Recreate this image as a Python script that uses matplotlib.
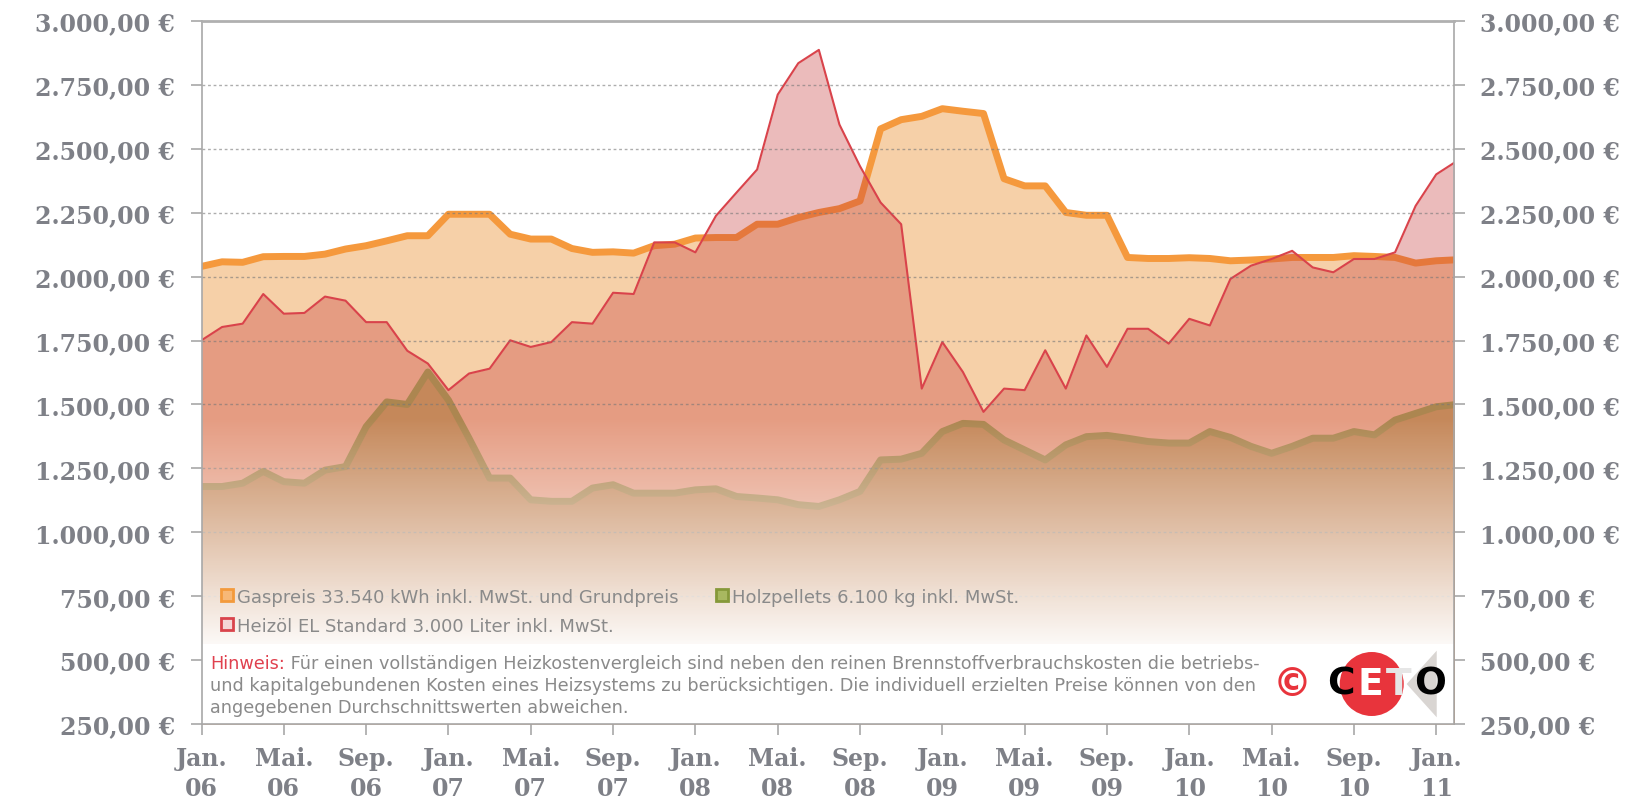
import numpy as np
import matplotlib.pyplot as plt
from matplotlib.lines import Line2D
from matplotlib.patches import Ellipse, Polygon, Rectangle

# monthly values, Jan 06 .. Feb 11 (last point runs past the right edge)
gas = [2040, 2058, 2056, 2078, 2079, 2079, 2088, 2108, 2121, 2140,
       2160, 2160, 2244, 2244, 2244, 2166, 2147, 2147, 2110, 2095,
       2097, 2092, 2121, 2127, 2151, 2153, 2153, 2205, 2205, 2231,
       2251, 2266, 2296, 2578, 2614, 2627, 2657, 2647, 2638, 2383,
       2355, 2355, 2251, 2240, 2240, 2075, 2071, 2071, 2074, 2071,
       2062, 2065, 2069, 2075, 2075, 2075, 2082, 2079, 2075, 2053,
       2062, 2066]
heizoel = [1751, 1803, 1816, 1932, 1855, 1858, 1922, 1906, 1822, 1822,
           1710, 1660, 1556, 1621, 1640, 1751, 1725, 1744, 1822, 1816,
           1937, 1932, 2134, 2134, 2095, 2238, 2329, 2419, 2712, 2835,
           2887, 2595, 2432, 2290, 2205, 1562, 1744, 1627, 1471, 1562,
           1556, 1712, 1562, 1770, 1647, 1796, 1796, 1738, 1835, 1809,
           1991, 2043, 2069, 2101, 2036, 2017, 2069, 2069, 2095, 2277,
           2400, 2452]
pellets = [1179, 1179, 1192, 1238, 1198, 1192, 1243, 1257, 1413, 1510,
           1500, 1627, 1517, 1368, 1212, 1212, 1127, 1121, 1121, 1173,
           1186, 1153, 1153, 1153, 1166, 1170, 1140, 1134, 1127, 1108,
           1101, 1127, 1160, 1283, 1286, 1309, 1394, 1426, 1422, 1361,
           1322, 1283, 1342, 1374, 1379, 1368, 1355, 1349, 1349, 1394,
           1371, 1336, 1309, 1336, 1368, 1368, 1394, 1381, 1439, 1465,
           1491, 1500]

month_labels = ["Jan.\n06", "Mai.\n06", "Sep.\n06", "Jan.\n07", "Mai.\n07", "Sep.\n07",
                "Jan.\n08", "Mai.\n08", "Sep.\n08", "Jan.\n09", "Mai.\n09", "Sep.\n09",
                "Jan.\n10", "Mai.\n10", "Sep.\n10", "Jan.\n11"]
y_ticks = list(range(250, 3001, 250))

legend_labels = ["Gaspreis 33.540 kWh inkl. MwSt. und Grundpreis",
                 "Heizöl EL Standard 3.000 Liter inkl. MwSt.",
                 "Holzpellets 6.100 kg inkl. MwSt."]
note_lines = ["Für einen vollständigen Heizkostenvergleich sind neben den reinen Brennstoffverbrauchskosten die betriebs-",
              "und kapitalgebundenen Kosten eines Heizsystems zu berücksichtigen. Die individuell erzielten Preise können von den",
              "angegebenen Durchschnittswerten abweichen."]


def euro(v):
    s = f"{v:,.2f}".replace(",", "X").replace(".", ",").replace("X", ".")
    return s + " €"


label_col = "#7E8087"
text_col = "#8A8A8A"
x_end = 60.84
x = np.arange(len(gas))

fig = plt.figure(figsize=(16.47, 8.04), dpi=100)
ax = fig.add_axes([201.5 / 1647, 79 / 804, 1252 / 1647, 703 / 804])

# areas + lines, drawn back to front
ax.fill_between(x, gas, 250, color="#F6D0A8", lw=0, zorder=1)
ax.plot(x, gas, color="#F5993D", lw=5, zorder=2)
ax.fill_between(x, heizoel, 250, color="#C83C3C", alpha=0.35, lw=0, zorder=3)
ax.plot(x, heizoel, color="#D9434B", lw=1.5, zorder=4)
ax.fill_between(x, pellets, 250, color="#A0702A", alpha=0.45, lw=0, zorder=5)
ax.plot(x, pellets, color="#AC8650", lw=5, zorder=6)

ax.hlines(y_ticks[1:-1], 0, x_end, colors="#777777", linestyles=(0, (2, 2)),
          lw=1, alpha=0.6, zorder=6.5)

# fade towards the bottom
vv = np.linspace(250, 1600, 400)
img = np.ones((len(vv), 1, 4))
img[:, 0, 3] = np.clip((1450 - vv) / 930, 0, 1)
ax.imshow(img, extent=[0, x_end, 250, 1600], origin="lower", aspect="auto",
          interpolation="bilinear", zorder=7)
ax.add_patch(Rectangle((0, 0), 1, 0.114, transform=ax.transAxes, color="white",
                       lw=0, zorder=8))

ax.set_xlim(0, x_end)
ax.set_ylim(250, 3000)
ax.set_xticks(np.arange(0, 61, 4))
ax.set_xticklabels(month_labels)
ax.set_yticks(y_ticks)
ax.set_yticklabels([euro(v) for v in y_ticks])
ax.tick_params(axis="y", right=True, labelright=True, length=8, width=1.2,
               color="#A8A8A8", pad=11)
ax.tick_params(axis="x", length=8, width=1.2, color="#A8A8A8", pad=8)
for lab in ax.get_xticklabels():
    lab.set_family("DejaVu Serif")
    lab.set_fontweight("bold")
    lab.set_fontsize(17)
    lab.set_color(label_col)
    lab.set_linespacing(1.3)
for t in ax.yaxis.get_major_ticks():
    for lab in (t.label1, t.label2):
        lab.set_family("DejaVu Serif")
        lab.set_fontweight("bold")
        lab.set_fontsize(17)
        lab.set_color(label_col)

for side in ["left", "right", "bottom"]:
    ax.spines[side].set_color("#A8A8A8")
    ax.spines[side].set_linewidth(1.2)
ax.spines["top"].set_color("#B0B0B0")
ax.spines["top"].set_linewidth(2)
for sp in ax.spines.values():
    sp.set_zorder(10)

# legend
handles = [Line2D([], [], ls="none", marker="s", markersize=9, mew=2,
                  mfc="#F7B877", mec="#F39A3C"),
           Line2D([], [], ls="none", marker="s", markersize=9, mew=2,
                  mfc="#F4D6D6", mec="#D9434B"),
           Line2D([], [], ls="none", marker="s", markersize=9, mew=2,
                  mfc="#A8B860", mec="#86993A")]
leg = ax.legend(handles, legend_labels, ncol=2, loc="upper left",
                bbox_to_anchor=(0.0144, 0.194), frameon=False, borderpad=0,
                borderaxespad=0, handlelength=0.8, handletextpad=0.15,
                columnspacing=2.0, labelspacing=0.62,
                prop={"family": "DejaVu Sans", "size": 13})
for t in leg.get_texts():
    t.set_color(text_col)
leg.set_zorder(9)

# note box
note_size = 12.7
t1 = ax.text(0.0068, 0.0868, "Hinweis:", transform=ax.transAxes, color="#E0404E",
             fontsize=note_size, va="center", ha="left", zorder=9)
ax.annotate(" " + note_lines[0], xy=(1, 0), xycoords=t1, va="bottom", ha="left",
            color=text_col, fontsize=note_size, zorder=9)
ax.text(0.0068, 0.0555, note_lines[1], transform=ax.transAxes, color=text_col,
        fontsize=note_size, va="center", ha="left", zorder=9)
ax.text(0.0068, 0.0240, note_lines[2], transform=ax.transAxes, color=text_col,
        fontsize=note_size, va="center", ha="left", zorder=9)

# CETO logo
ax.text(0.8708, 0.057, "©", transform=ax.transAxes, color="#E8343C", fontsize=28,
        fontweight="bold", ha="center", va="center", zorder=9)
ax.add_patch(Polygon([(0.9626, 0.0569), (0.9866, 0.1043), (0.9866, 0.0095)],
                     closed=True, transform=ax.transAxes, color="#D9D5D2", lw=0, zorder=9))
ax.add_patch(Ellipse((0.9347, 0.0569), 64 / 1252, 64 / 703, transform=ax.transAxes,
                     color="#E8343C", lw=0, zorder=9))
for xf, ch, col in [(0.9099, "C", "black"), (0.9339, "E", "white"),
                    (0.9560, "T", "#E6E6E6"), (0.9810, "O", "black")]:
    ax.text(xf, 0.0569, ch, transform=ax.transAxes, color=col, fontsize=27,
            fontweight="bold", ha="center", va="center", zorder=9.5)

fig.savefig("out.png", dpi=100)
